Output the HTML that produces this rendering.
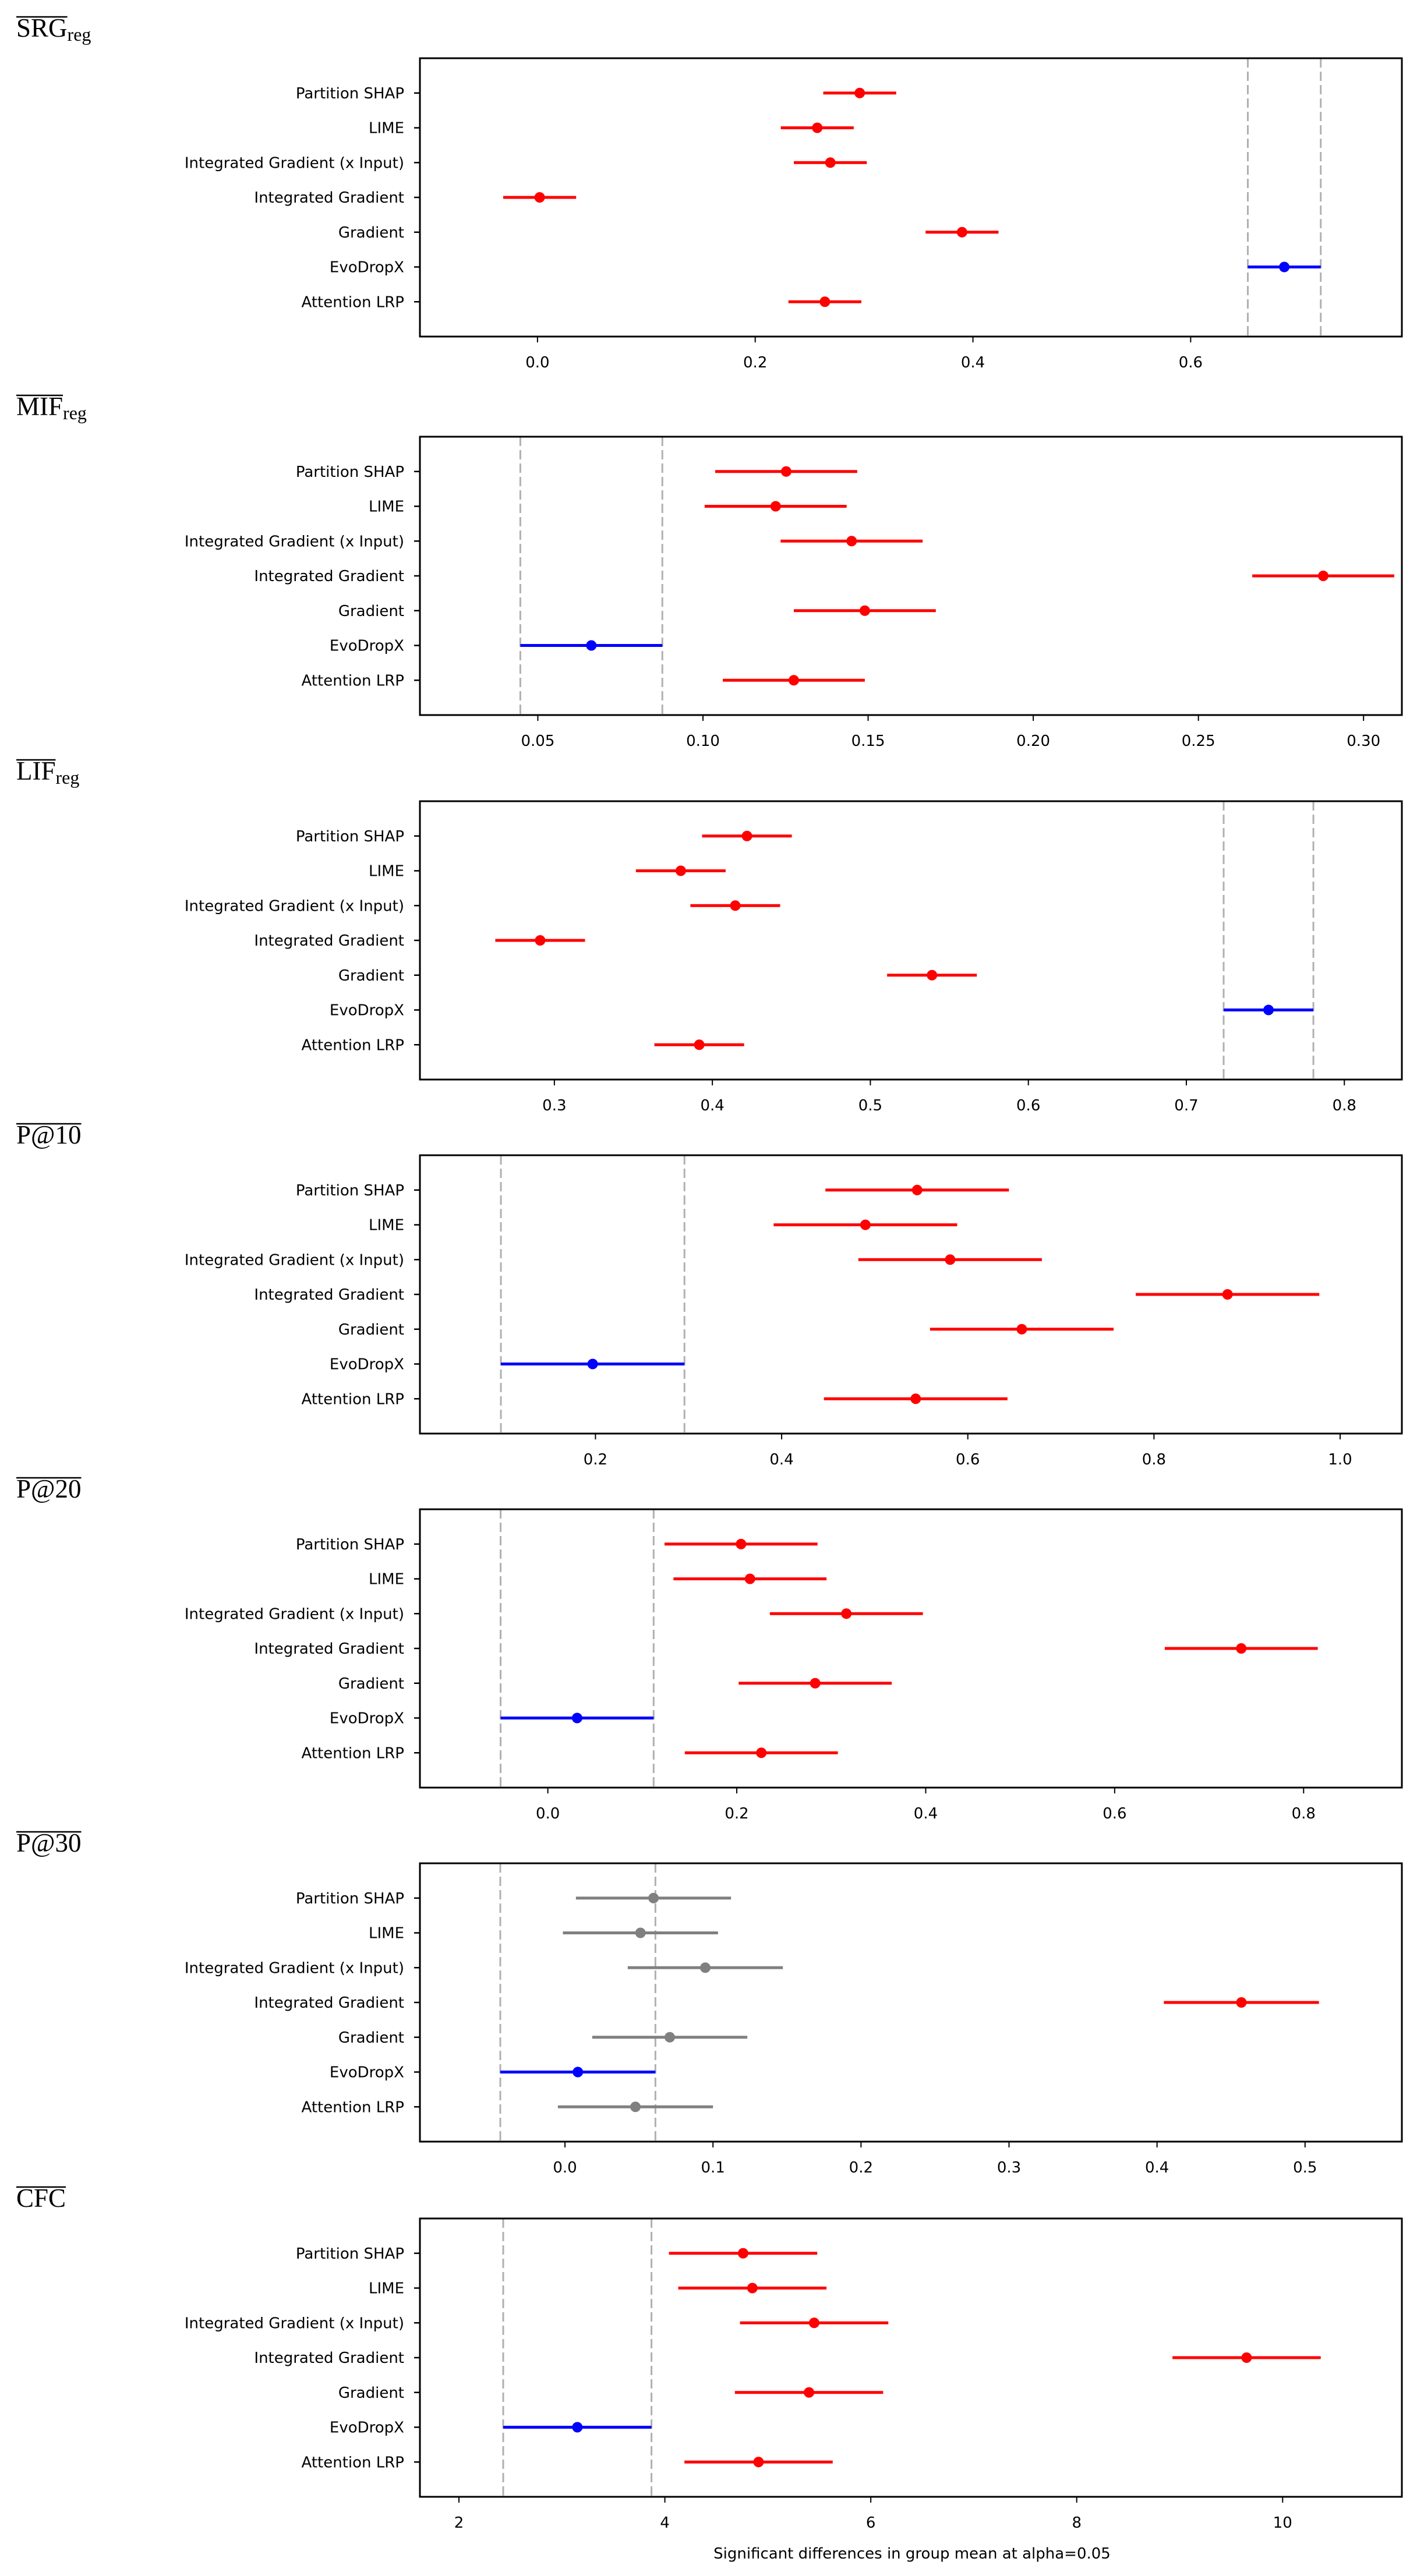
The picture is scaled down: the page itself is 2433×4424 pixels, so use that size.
<!DOCTYPE html>
<html><head><meta charset="utf-8"><style>
html,body{margin:0;padding:0;background:#fff;}
svg{display:block;}
</style></head><body>
<svg id="chart" width="2433" height="4424" viewBox="0 0 2433 4424" xmlns="http://www.w3.org/2000/svg"></svg>
<script>
const categories = ["Partition SHAP","LIME","Integrated Gradient (x Input)","Integrated Gradient","Gradient","EvoDropX","Attention LRP"];
const panelTitles = ["SRG","MIF","LIF","P@10","P@20","P@30","CFC"];
const panelSubs = ["reg","reg","reg","","","",""];
const means1 = [0.296,0.257,0.269,0.002,0.390,0.686,0.264];
const means2 = [0.1252,0.122,0.145,0.2878,0.149,0.0662,0.1275];
const means3 = [0.4219,0.380,0.4145,0.291,0.539,0.752,0.3917];
const means4 = [0.5456,0.490,0.581,0.879,0.658,0.197,0.544];
const means5 = [0.2045,0.214,0.316,0.734,0.283,0.031,0.226];
const means6 = [0.0598,0.051,0.0948,0.457,0.0708,0.0087,0.0476];
const means7 = [4.76,4.85,5.45,9.65,5.40,3.15,4.91];
const halfWidths = [0.0335,0.0215,0.0284,0.0986,0.081,0.0524,0.72];
const sig1 = ["sig","sig","sig","sig","sig","ref","sig"];
const sig2 = ["sig","sig","sig","sig","sig","ref","sig"];
const sig3 = ["sig","sig","sig","sig","sig","ref","sig"];
const sig4 = ["sig","sig","sig","sig","sig","ref","sig"];
const sig5 = ["sig","sig","sig","sig","sig","ref","sig"];
const sig6 = ["ns","ns","ns","sig","ns","ref","ns"];
const sig7 = ["sig","sig","sig","sig","sig","ref","sig"];
const ticks1 = [0.0,0.2,0.4,0.6];
const ticks2 = [0.05,0.10,0.15,0.20,0.25,0.30];
const ticks3 = [0.3,0.4,0.5,0.6,0.7,0.8];
const ticks4 = [0.2,0.4,0.6,0.8,1.0];
const ticks5 = [0.0,0.2,0.4,0.6,0.8];
const ticks6 = [0.0,0.1,0.2,0.3,0.4,0.5];
const ticks7 = [2,4,6,8,10];
const tickLabels1 = ["0.0","0.2","0.4","0.6"];
const tickLabels2 = ["0.05","0.10","0.15","0.20","0.25","0.30"];
const tickLabels3 = ["0.3","0.4","0.5","0.6","0.7","0.8"];
const tickLabels4 = ["0.2","0.4","0.6","0.8","1.0"];
const tickLabels5 = ["0.0","0.2","0.4","0.6","0.8"];
const tickLabels6 = ["0.0","0.1","0.2","0.3","0.4","0.5"];
const tickLabels7 = ["2","4","6","8","10"];
const domains1 = [-0.108,0.794];
const domains2 = [0.0143,0.3116];
const domains3 = [0.2149,0.8364];
const domains4 = [0.0114,1.0663];
const domains5 = [-0.1354,0.9040];
const domains6 = [-0.0980,0.5654];
const domains7 = [1.621,11.158];

const panels = [
 {m:means1,s:sig1,t:ticks1,tl:tickLabels1,d:domains1,top:100},
 {m:means2,s:sig2,t:ticks2,tl:tickLabels2,d:domains2,top:750},
 {m:means3,s:sig3,t:ticks3,tl:tickLabels3,d:domains3,top:1376},
 {m:means4,s:sig4,t:ticks4,tl:tickLabels4,d:domains4,top:1984},
 {m:means5,s:sig5,t:ticks5,tl:tickLabels5,d:domains5,top:2592},
 {m:means6,s:sig6,t:ticks6,tl:tickLabels6,d:domains6,top:3200},
 {m:means7,s:sig7,t:ticks7,tl:tickLabels7,d:domains7,top:3810}
];
const NS="http://www.w3.org/2000/svg";
const svg=document.getElementById('chart');
const L=721,R=2407,H=478;
const colorMap={sig:"#ff0000",ref:"#0000ff",ns:"#808080"};
function mk(tag,attrs,parent){const e=document.createElementNS(NS,tag);for(const k in attrs)e.setAttribute(k,attrs[k]);(parent||svg).appendChild(e);return e;}

panels.forEach((p,pi)=>{
  const g=mk('g',{});
  
  
  const x=v=>L+(v-p.d[0])/(p.d[1]-p.d[0])*(R-L);
  const y=i=>p.top+(i+1)*H/8;
  const base=panelSubs[pi]?p.top-37:p.top-20;
  const tt=mk('text',{x:28,y:base,'font-family':'"Liberation Serif",serif','font-size':45,fill:'#000'},g);
  
  
  const t1=mk('tspan',{},tt);t1.textContent=panelTitles[pi];
  if(panelSubs[pi]){const t2=mk('tspan',{'font-size':32,dy:7},tt);t2.textContent=panelSubs[pi];}
  const ol=mk('line',{x1:28,x2:28,y1:base-34,y2:base-34,stroke:'#000','stroke-width':2.5},g);
  
  
  try{const w=t1.getComputedTextLength();ol.setAttribute('x2',28+w);}catch(e){ol.setAttribute('x2',110);}
  const ri=p.s.indexOf('ref');
  const hw=halfWidths[pi];
  [p.m[ri]-hw,p.m[ri]+hw].forEach(v=>{
    const dl=mk('line',{x1:x(v),x2:x(v),y1:p.top,y2:p.top+H,stroke:'#b0b0b0','stroke-width':3,'stroke-dasharray':'16,7'},g);
    
    
  });
  const fr=mk('rect',{x:L,y:p.top,width:R-L,height:H,fill:'none',stroke:'#000','stroke-width':3},g);
  
  
  categories.forEach((c,i)=>{
    mk('line',{x1:L-10,x2:L,y1:y(i),y2:y(i),stroke:'#000','stroke-width':2.5},g);
    const lb=mk('text',{x:694,y:y(i)+9,'text-anchor':'end','font-family':'"DejaVu Sans",sans-serif','font-size':26,fill:'#000'},g);
    
    
    lb.textContent=c;
  });
  p.t.forEach((v,i)=>{
    mk('line',{x1:x(v),x2:x(v),y1:p.top+H,y2:p.top+H+10,stroke:'#000','stroke-width':2},g);
    const lb=mk('text',{x:x(v),y:p.top+H+53,'text-anchor':'middle','font-family':'"DejaVu Sans",sans-serif','font-size':26,fill:'#000'},g);
    
    
    lb.textContent=p.tl[i];
  });
  p.m.forEach((v,i)=>{
    const col=colorMap[p.s[i]];
    const bar=mk('line',{x1:x(v-hw),x2:x(v+hw),y1:y(i),y2:y(i),stroke:col,'stroke-width':5},g);
    
    
    const pt=mk('circle',{cx:x(v),cy:y(i),r:9,fill:col},g);
    
    
  });
});
const xl=mk('text',{x:1566,y:4394,'text-anchor':'middle','font-family':'"DejaVu Sans",sans-serif','font-size':26,fill:'#000'});


xl.textContent='Significant differences in group mean at alpha=0.05';
</script>
</body></html>
